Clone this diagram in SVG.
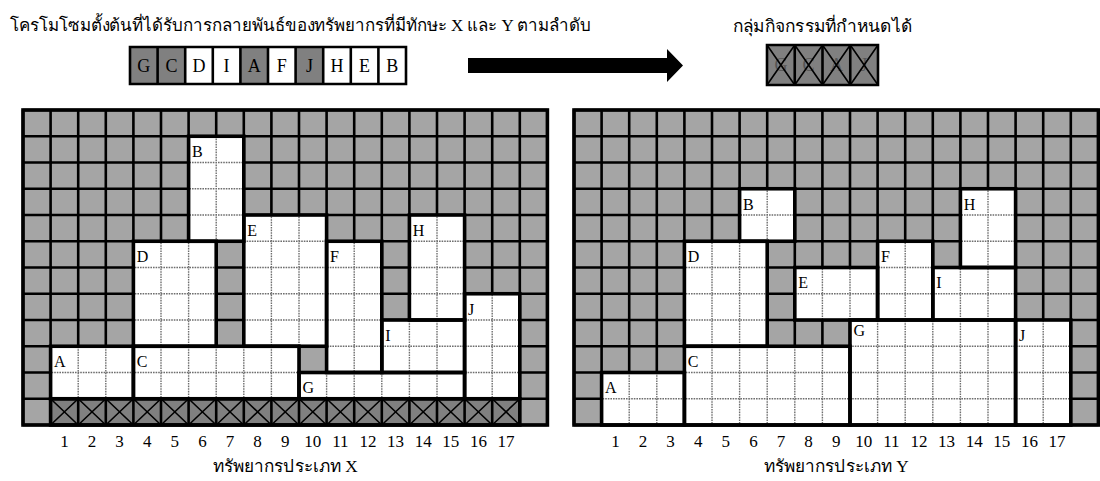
<svg xmlns="http://www.w3.org/2000/svg" xmlns:xlink="http://www.w3.org/1999/xlink" width="1100" height="481" viewBox="0 0 1100 481">
<style>
text{font-family:"Liberation Serif","DejaVu Serif",serif;fill:#000}
.th{font-size:17px}
.num{font-size:17px;text-anchor:middle}
.lbl{font-size:16px}
.big{font-size:18px;text-anchor:middle}
.gl{fill:none;stroke:#000;stroke-width:2.6}
.dot{fill:none;stroke:#6e6e6e;stroke-width:1.4;stroke-dasharray:1.6 1}
.blk{fill:#fff;stroke:none}
.out{fill:none;stroke:#000;stroke-width:3.6;stroke-linejoin:miter}
.gray{fill:#a5a5a5}
.dark{fill:#808080}
.x{fill:none;stroke:#000;stroke-width:1.6}
</style>
<defs>
<path id="grid" d="M0 0V315M27.6 0V315M55.2 0V315M82.8 0V315M110.4 0V315M138 0V315M165.6 0V315M193.2 0V315M220.8 0V315M248.4 0V315M276 0V315M303.6 0V315M331.2 0V315M358.8 0V315M386.4 0V315M414 0V315M441.6 0V315M469.2 0V315M496.8 0V315M524.4 0V315M0 0H524.4M0 26.25H524.4M0 52.5H524.4M0 78.75H524.4M0 105H524.4M0 131.25H524.4M0 157.5H524.4M0 183.75H524.4M0 210H524.4M0 236.25H524.4M0 262.5H524.4M0 288.75H524.4M0 315H524.4"/>
<clipPath id="clipX">
<rect x="27.6" y="236.25" width="82.8" height="52.5"/>
<rect x="110.4" y="236.25" width="165.6" height="52.5"/>
<rect x="110.4" y="131.25" width="82.8" height="105"/>
<rect x="165.6" y="26.25" width="55.2" height="105"/>
<rect x="220.8" y="105" width="82.8" height="131.25"/>
<rect x="303.6" y="131.25" width="55.2" height="131.25"/>
<rect x="276" y="262.5" width="165.6" height="26.25"/>
<rect x="386.4" y="105" width="55.2" height="105"/>
<rect x="358.8" y="210" width="82.8" height="52.5"/>
<rect x="441.6" y="183.75" width="55.2" height="105"/>
</clipPath>
<clipPath id="clipY">
<rect x="27.6" y="262.5" width="82.8" height="52.5"/>
<rect x="110.4" y="236.25" width="165.6" height="78.75"/>
<rect x="110.4" y="131.25" width="82.8" height="105"/>
<rect x="165.6" y="78.75" width="55.2" height="52.5"/>
<rect x="220.8" y="157.5" width="82.8" height="52.5"/>
<rect x="303.6" y="131.25" width="55.2" height="78.75"/>
<rect x="276" y="210" width="165.6" height="105"/>
<rect x="386.4" y="78.75" width="55.2" height="78.75"/>
<rect x="358.8" y="157.5" width="82.8" height="52.5"/>
<rect x="441.6" y="210" width="55.2" height="105"/>
</clipPath>
</defs>
<rect width="1100" height="481" fill="#fff"/>

<text id="title-left" class="th" x="10" y="31" textLength="581" lengthAdjust="spacingAndGlyphs">โครโมโซมตั้งต้นที่ได้รับการกลายพันธ์ของทรัพยากรที่มีทักษะ X และ Y ตามลำดับ</text>
<text id="title-right" class="th" x="822.5" y="32" text-anchor="middle" textLength="179" lengthAdjust="spacingAndGlyphs">กลุ่มกิจกรรมที่กำหนดได้</text>

<g id="chromosome">
<rect class="dark" x="130" y="47" width="27.6" height="37"/>
<rect class="dark" x="157.6" y="47" width="27.6" height="37"/>
<rect fill="#fff" x="185.2" y="47" width="55.2" height="37"/>
<rect class="dark" x="240.4" y="47" width="27.6" height="37"/>
<rect fill="#fff" x="268" y="47" width="27.6" height="37"/>
<rect class="dark" x="295.6" y="47" width="27.6" height="37"/>
<rect fill="#fff" x="323.2" y="47" width="82.8" height="37"/>
<path class="gl" d="M130 47H406V84H130ZM157.6 47V84M185.2 47V84M212.8 47V84M240.4 47V84M268 47V84M295.6 47V84M323.2 47V84M350.8 47V84M378.4 47V84"/>
<text class="big" x="143.8" y="72">G</text>
<text class="big" x="171.4" y="72">C</text>
<text class="big" x="199" y="72">D</text>
<text class="big" x="226.6" y="72">I</text>
<text class="big" x="254.2" y="72">A</text>
<text class="big" x="281.8" y="72">F</text>
<text class="big" x="309.4" y="72">J</text>
<text class="big" x="337" y="72">H</text>
<text class="big" x="364.6" y="72">E</text>
<text class="big" x="392.2" y="72">B</text>
</g>

<g id="connectors">
<polygon points="468,58 667,58 667,49 683,65.5 667,82 667,73 468,73" fill="#000"/>
</g>

<g id="activity-group">
<rect class="dark" x="767" y="45" width="111" height="40"/>
<text class="big" x="780.9" y="71" style="fill:#555">G</text>
<text class="big" x="808.6" y="71" style="fill:#555">C</text>
<text class="big" x="836.4" y="71" style="fill:#555">A</text>
<text class="big" x="864.1" y="71" style="fill:#555">J</text>
<path class="x" d="M767 45L794.75 85M794.75 45L767 85M794.75 45L822.5 85M822.5 45L794.75 85M822.5 45L850.25 85M850.25 45L822.5 85M850.25 45L878 85M878 45L850.25 85"/>
<path class="gl" d="M767 45H878V85H767ZM794.75 45V85M822.5 45V85M850.25 45V85"/>
</g>

<g id="grid-x" transform="translate(23,110)">
<rect class="gray" x="0" y="0" width="524.4" height="315"/>
<rect class="dark" x="27.6" y="288.75" width="469.2" height="26.25"/>
<use xlink:href="#grid" class="gl"/>
<path class="x" d="M27.6 288.75L55.2 315M55.2 288.75L27.6 315M55.2 288.75L82.8 315M82.8 288.75L55.2 315M82.8 288.75L110.4 315M110.4 288.75L82.8 315M110.4 288.75L138 315M138 288.75L110.4 315M138 288.75L165.6 315M165.6 288.75L138 315M165.6 288.75L193.2 315M193.2 288.75L165.6 315M193.2 288.75L220.8 315M220.8 288.75L193.2 315M220.8 288.75L248.4 315M248.4 288.75L220.8 315M248.4 288.75L276 315M276 288.75L248.4 315M276 288.75L303.6 315M303.6 288.75L276 315M303.6 288.75L331.2 315M331.2 288.75L303.6 315M331.2 288.75L358.8 315M358.8 288.75L331.2 315M358.8 288.75L386.4 315M386.4 288.75L358.8 315M386.4 288.75L414 315M414 288.75L386.4 315M414 288.75L441.6 315M441.6 288.75L414 315M441.6 288.75L469.2 315M469.2 288.75L441.6 315M469.2 288.75L496.8 315M496.8 288.75L469.2 315"/>
<g clip-path="url(#clipX)">
<rect class="blk" x="0" y="0" width="524.4" height="315"/>
<use xlink:href="#grid" class="dot"/>
</g>
<g id="x-A"><rect class="out" x="27.6" y="236.25" width="82.8" height="52.5"/><text class="lbl" x="31" y="257">A</text></g>
<g id="x-C"><rect class="out" x="110.4" y="236.25" width="165.6" height="52.5"/><text class="lbl" x="113.8" y="257">C</text></g>
<g id="x-D"><rect class="out" x="110.4" y="131.25" width="82.8" height="105"/><text class="lbl" x="113.8" y="152">D</text></g>
<g id="x-B"><rect class="out" x="165.6" y="26.25" width="55.2" height="105"/><text class="lbl" x="169" y="47">B</text></g>
<g id="x-E"><rect class="out" x="220.8" y="105" width="82.8" height="131.25"/><text class="lbl" x="224.2" y="126">E</text></g>
<g id="x-F"><rect class="out" x="303.6" y="131.25" width="55.2" height="131.25"/><text class="lbl" x="307" y="152">F</text></g>
<g id="x-G"><rect class="out" x="276" y="262.5" width="165.6" height="26.25"/><text class="lbl" x="279.4" y="283">G</text></g>
<g id="x-H"><rect class="out" x="386.4" y="105" width="55.2" height="105"/><text class="lbl" x="389.8" y="126">H</text></g>
<g id="x-I"><rect class="out" x="358.8" y="210" width="82.8" height="52.5"/><text class="lbl" x="362.2" y="231">I</text></g>
<g id="x-J"><rect class="out" x="441.6" y="183.75" width="55.2" height="105"/><text class="lbl" x="445" y="205">J</text></g>
<path class="out" d="M27.6 288.75H496.8V315H27.6Z"/>
<rect class="out" x="0" y="0" width="524.4" height="315"/>
<text class="num" x="41.4" y="337">1</text><text class="num" x="69" y="337">2</text><text class="num" x="96.6" y="337">3</text><text class="num" x="124.2" y="337">4</text><text class="num" x="151.8" y="337">5</text><text class="num" x="179.4" y="337">6</text><text class="num" x="207" y="337">7</text><text class="num" x="234.6" y="337">8</text><text class="num" x="262.2" y="337">9</text><text class="num" x="289.8" y="337">10</text><text class="num" x="317.4" y="337">11</text><text class="num" x="345" y="337">12</text><text class="num" x="372.6" y="337">13</text><text class="num" x="400.2" y="337">14</text><text class="num" x="427.8" y="337">15</text><text class="num" x="455.4" y="337">16</text><text class="num" x="483" y="337">17</text>
<text class="th" x="262.2" y="362" text-anchor="middle" textLength="145" lengthAdjust="spacingAndGlyphs">ทรัพยากรประเภท X</text>
</g>

<g id="grid-y" transform="translate(574,110)">
<rect class="gray" x="0" y="0" width="524.4" height="315"/>
<use xlink:href="#grid" class="gl"/>
<g clip-path="url(#clipY)">
<rect class="blk" x="0" y="0" width="524.4" height="315"/>
<use xlink:href="#grid" class="dot"/>
</g>
<g id="y-A"><rect class="out" x="27.6" y="262.5" width="82.8" height="52.5"/><text class="lbl" x="31" y="283">A</text></g>
<g id="y-C"><rect class="out" x="110.4" y="236.25" width="165.6" height="78.75"/><text class="lbl" x="113.8" y="257">C</text></g>
<g id="y-D"><rect class="out" x="110.4" y="131.25" width="82.8" height="105"/><text class="lbl" x="113.8" y="152">D</text></g>
<g id="y-B"><rect class="out" x="165.6" y="78.75" width="55.2" height="52.5"/><text class="lbl" x="169" y="100">B</text></g>
<g id="y-E"><rect class="out" x="220.8" y="157.5" width="82.8" height="52.5"/><text class="lbl" x="224.2" y="178">E</text></g>
<g id="y-F"><rect class="out" x="303.6" y="131.25" width="55.2" height="78.75"/><text class="lbl" x="307" y="152">F</text></g>
<g id="y-G"><rect class="out" x="276" y="210" width="165.6" height="105"/><text class="lbl" x="279.4" y="226">G</text></g>
<g id="y-H"><rect class="out" x="386.4" y="78.75" width="55.2" height="78.75"/><text class="lbl" x="389.8" y="100">H</text></g>
<g id="y-I"><rect class="out" x="358.8" y="157.5" width="82.8" height="52.5"/><text class="lbl" x="362.2" y="178">I</text></g>
<g id="y-J"><rect class="out" x="441.6" y="210" width="55.2" height="105"/><text class="lbl" x="445" y="231">J</text></g>
<rect class="out" x="0" y="0" width="524.4" height="315"/>
<text class="num" x="41.4" y="337">1</text><text class="num" x="69" y="337">2</text><text class="num" x="96.6" y="337">3</text><text class="num" x="124.2" y="337">4</text><text class="num" x="151.8" y="337">5</text><text class="num" x="179.4" y="337">6</text><text class="num" x="207" y="337">7</text><text class="num" x="234.6" y="337">8</text><text class="num" x="262.2" y="337">9</text><text class="num" x="289.8" y="337">10</text><text class="num" x="317.4" y="337">11</text><text class="num" x="345" y="337">12</text><text class="num" x="372.6" y="337">13</text><text class="num" x="400.2" y="337">14</text><text class="num" x="427.8" y="337">15</text><text class="num" x="455.4" y="337">16</text><text class="num" x="483" y="337">17</text>
<text class="th" x="262.2" y="362" text-anchor="middle" textLength="145" lengthAdjust="spacingAndGlyphs">ทรัพยากรประเภท Y</text>
</g>
</svg>
